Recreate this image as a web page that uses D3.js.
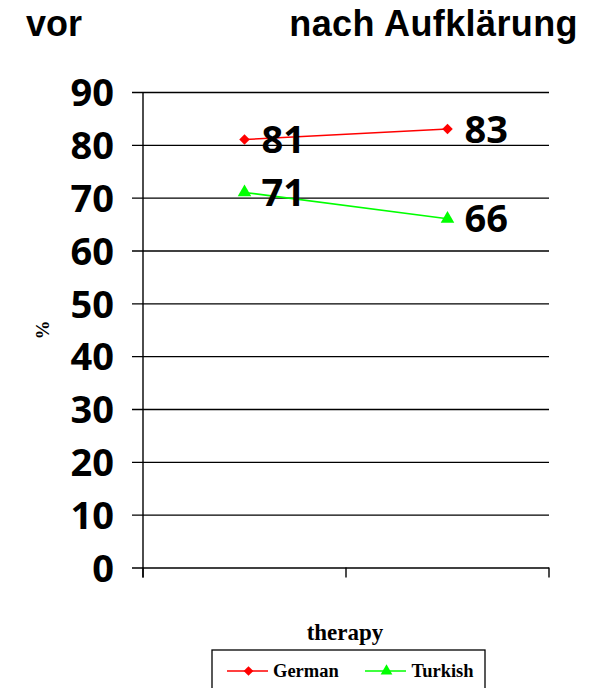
<!DOCTYPE html>
<html>
<head>
<meta charset="utf-8">
<script src="https://cdn.jsdelivr.net/npm/d3@7"></script>
<style>
  body { margin: 0; background: #fff; }
  svg { display: block; }
</style>
</head>
<body>
<svg id="chart" width="590" height="688"></svg>
<script>
// Share (%) before and after information, by group
const phases = ["vor", "nach Aufklärung"];
const germanValues = [81, 83];
const turkishValues = [71, 66];
const yTicks = [0, 10, 20, 30, 40, 50, 60, 70, 80, 90];
const seriesNames = ["German", "Turkish"];

const series = [
  { name: seriesNames[0], values: germanValues, color: "#ff0000", symbol: d3.symbolDiamond2, size: 70, legendSize: 60 },
  { name: seriesNames[1], values: turkishValues, color: "#00ff00", symbol: d3.symbolTriangle, size: 80, legendSize: 60 }
];

const svg = d3.select("#chart");
const plot = { left: 143, right: 549, top: 92, bottom: 567.5 };

const x = d3.scaleBand().domain(phases).range([plot.left, plot.right]);
const y = d3.scaleLinear().domain([0, 90]).range([plot.bottom, plot.top]);

const numFont = "'Open Sans', 'DejaVu Sans', sans-serif";
const headFont = "'Liberation Sans', Arial, sans-serif";
const serifFont = "'Liberation Serif', 'Times New Roman', serif";

// Phase headings above the plot
svg.append("text").attr("x", 26).attr("y", 36)
  .attr("font-family", headFont)
  .attr("font-weight", "bold").attr("font-size", 36).text(phases[0]);
svg.append("text").attr("x", 578).attr("y", 36).attr("text-anchor", "end")
  .attr("font-family", headFont)
  .attr("font-weight", "bold").attr("font-size", 36).attr("letter-spacing", 0.4).text(phases[1]);

// Horizontal grid lines that also act as left ticks
const yAxis = d3.axisLeft(y).tickValues(yTicks).tickSize(-(plot.right - plot.left)).tickSizeOuter(0).tickPadding(29);
const gy = svg.append("g").attr("transform", `translate(${plot.left},0)`).call(yAxis);
gy.select(".domain").remove();
gy.selectAll(".tick line").attr("x1", -11).attr("stroke", "#000").attr("stroke-width", 1.4);
gy.selectAll(".tick text")
  .attr("font-family", numFont).attr("font-weight", "bold").attr("font-size", 38)
  .attr("fill", "#000").attr("dy", "0.36em");

// Vertical axis line
svg.append("line").attr("x1", plot.left).attr("x2", plot.left)
  .attr("y1", plot.top).attr("y2", plot.bottom + 10)
  .attr("stroke", "#000").attr("stroke-width", 1.4);

// Category boundary ticks on the bottom axis
const bounds = [plot.left, plot.left + x.bandwidth(), plot.right];
svg.append("g").selectAll("line").data(bounds).join("line")
  .attr("x1", d => d).attr("x2", d => d)
  .attr("y1", plot.bottom).attr("y2", plot.bottom + 10)
  .attr("stroke", "#000").attr("stroke-width", 1.4);

// Axis titles
svg.append("text")
  .attr("transform", `translate(49,330) rotate(-90)`)
  .attr("text-anchor", "middle")
  .attr("font-family", serifFont)
  .attr("font-weight", "bold").attr("font-size", 19).text("%");
svg.append("text").attr("x", 345).attr("y", 640).attr("text-anchor", "middle")
  .attr("font-family", serifFont)
  .attr("font-weight", "bold").attr("font-size", 23).text("therapy");

// Lines, markers and value labels
const cx = d => x(d) + x.bandwidth() / 2;
const line = d3.line().x((v, i) => cx(phases[i])).y(v => y(v));

series.forEach(s => {
  svg.append("path").attr("d", line(s.values))
    .attr("fill", "none").attr("stroke", s.color).attr("stroke-width", 1.5);
  svg.append("g").selectAll("path").data(s.values).join("path")
    .attr("transform", (v, i) => `translate(${cx(phases[i])},${y(v)})`)
    .attr("d", d3.symbol().type(s.symbol).size(s.size))
    .attr("fill", s.color);
  svg.append("g").selectAll("text").data(s.values).join("text")
    .attr("x", (v, i) => cx(phases[i]) + 17)
    .attr("y", v => y(v))
    .attr("dy", "0.36em")
    .attr("font-family", numFont).attr("font-weight", "bold").attr("font-size", 38)
    .attr("fill", "#000")
    .text(v => v);
});

// Legend (box runs past the bottom edge)
const lg = svg.append("g");
lg.append("rect").attr("x", 212).attr("y", 650).attr("width", 273).attr("height", 50)
  .attr("fill", "#fff").attr("stroke", "#000").attr("stroke-width", 1.3);
const legendPos = [{ lx: 227, tx: 273 }, { lx: 365, tx: 411.5 }];
series.forEach((s, i) => {
  const p = legendPos[i];
  lg.append("line").attr("x1", p.lx).attr("x2", p.lx + 41).attr("y1", 671).attr("y2", 671)
    .attr("stroke", s.color).attr("stroke-width", 1.5);
  lg.append("path").attr("transform", `translate(${p.lx + 21.5},671)`)
    .attr("d", d3.symbol().type(s.symbol).size(s.legendSize))
    .attr("fill", s.color);
  lg.append("text").attr("x", p.tx).attr("y", 677)
    .attr("font-family", serifFont)
    .attr("font-weight", "bold").attr("font-size", 18.5).text(s.name);
});
</script>
</body>
</html>
